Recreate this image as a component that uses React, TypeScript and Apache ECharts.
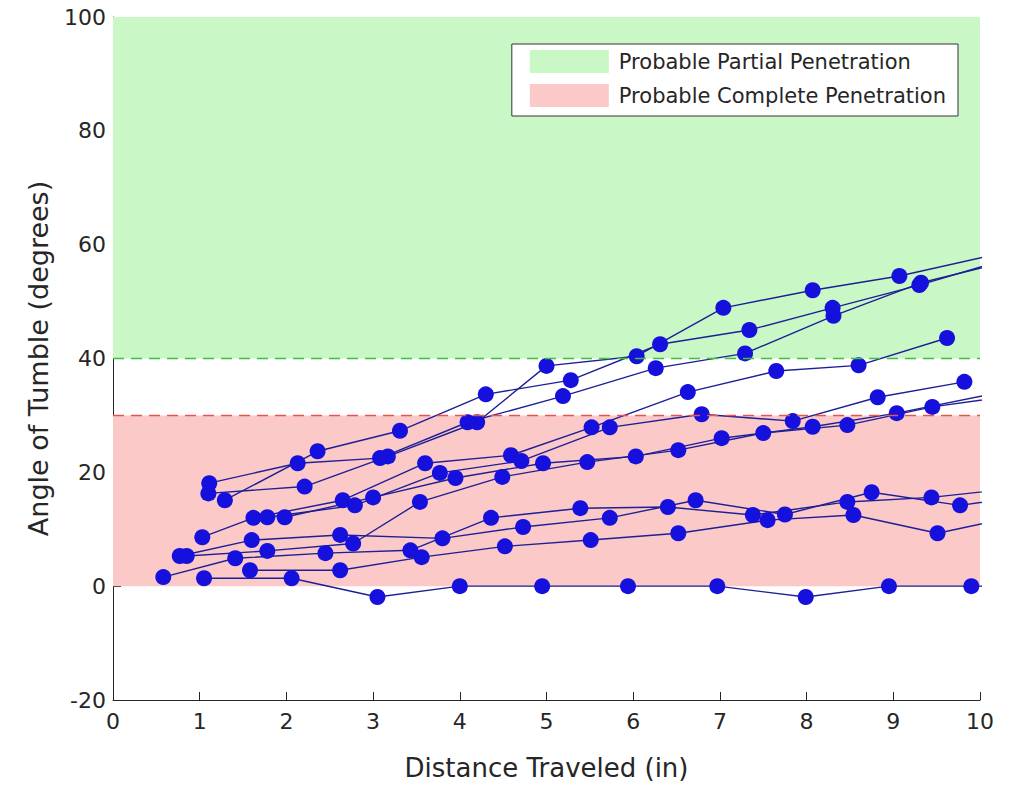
import React, { useEffect, useRef } from "react";
import * as echarts from "echarts";

const xTicks = [0, 1, 2, 3, 4, 5, 6, 7, 8, 9, 10];
const yTicks = [-20, 0, 20, 40, 60, 80, 100];

const trialZ = [[1.05, 1.4], [2.06, 1.4], [3.05, -1.9], [4.0, 0], [4.95, 0], [5.94, 0], [6.97, 0], [7.99, -1.9], [8.95, 0], [9.9, 0], [10.9, 0]];
const trialA = [[1.1, 16.3], [2.21, 17.5], [3.17, 22.8], [4.2, 28.8], [5.0, 38.7], [6.04, 40.4], [7.04, 48.9], [8.07, 52.0], [9.07, 54.5], [10.1, 58.0]];
const trialB = [[1.29, 15.1], [2.36, 23.7], [3.31, 27.3], [4.3, 33.7], [5.28, 36.2], [6.31, 42.5], [7.34, 45.0], [8.3, 48.9], [9.3, 52.9], [10.3, 57.4]];
const trialC = [[1.11, 18.1], [2.13, 21.6], [3.08, 22.5], [4.09, 28.8], [5.19, 33.4], [6.26, 38.3], [7.29, 40.9], [8.31, 47.5], [9.32, 53.3], [10.3, 57.0]];
const trialD = [[1.03, 8.6], [1.62, 12.0], [2.65, 15.1], [3.6, 21.6], [4.59, 23.0], [5.52, 27.9], [6.63, 34.1], [7.65, 37.8], [8.6, 38.8], [9.62, 43.6]];
const trialE = [[1.78, 12.1], [2.79, 14.2], [3.77, 19.9], [4.71, 22.0], [5.73, 27.9], [6.79, 30.2], [7.84, 29.0], [8.82, 33.2], [9.82, 35.9]];
const trialF = [[1.98, 12.1], [3.0, 15.6], [3.95, 19.0], [4.96, 21.6], [6.03, 22.8], [7.02, 26.0], [8.07, 28.0], [9.04, 30.4], [10.05, 33.5]];
const trialG = [[0.85, 5.3], [1.78, 6.2], [2.77, 7.5], [3.54, 14.8], [4.49, 19.2], [5.47, 21.8], [6.52, 23.9], [7.5, 26.9], [8.47, 28.3], [9.45, 31.5], [10.4, 33.5]];
const trialH = [[1.58, 2.8], [2.62, 2.8], [3.56, 5.1], [4.52, 7.0], [5.51, 8.1], [6.52, 9.3], [7.55, 11.6], [8.54, 12.5], [9.51, 9.3], [10.5, 12.5]];
const trialI = [[0.58, 1.6], [1.41, 4.9], [2.45, 5.8], [3.43, 6.3], [4.36, 12.0], [5.39, 13.7], [6.4, 13.9], [7.38, 12.5], [8.47, 14.8], [9.44, 15.6], [10.4, 17.2]];
const trialJ = [[0.77, 5.3], [1.6, 8.1], [2.62, 9.0], [3.8, 8.4], [4.73, 10.4], [5.73, 12.0], [6.72, 15.1], [7.75, 12.6], [8.75, 16.5], [9.77, 14.2], [10.5, 15.8]];

const trials = [trialZ, trialA, trialB, trialC, trialD, trialE, trialF, trialG, trialH, trialI, trialJ];

const partialRange = [40, 100];
const completeRange = [0, 30];
const legendNames = ["Probable Partial Penetration", "Probable Complete Penetration"];

const GREEN = "#c9f8c6";
const PINK = "#fac9c8";
const TEXT = "#262626";

export default function App() {
  const ref = useRef<HTMLDivElement>(null);
  useEffect(() => {
    if (!ref.current) return;
    const chart = echarts.init(ref.current, undefined, { renderer: "svg" });
    const font = "'DejaVu Sans', sans-serif";
    const series: any[] = [
      {
        name: legendNames[0],
        type: "line",
        data: [],
        z: 1,
        itemStyle: { color: GREEN },
        markArea: {
          silent: true,
          itemStyle: { color: GREEN },
          data: [[{ yAxis: partialRange[0] }, { yAxis: partialRange[1] }]],
        },
        markLine: {
          silent: true,
          symbol: "none",
          label: { show: false },
          lineStyle: { color: "#3fbf3f", type: [11, 7], width: 1.3 },
          data: [{ yAxis: partialRange[0] }],
        },
      },
      {
        name: legendNames[1],
        type: "line",
        data: [],
        z: 1,
        itemStyle: { color: PINK },
        markArea: {
          silent: true,
          itemStyle: { color: PINK },
          data: [[{ yAxis: completeRange[0] }, { yAxis: completeRange[1] }]],
        },
        markLine: {
          silent: true,
          symbol: "none",
          label: { show: false },
          lineStyle: { color: "#e6564c", type: [11, 7], width: 1.4 },
          data: [{ yAxis: completeRange[1] }],
        },
      },
    ];
    trials.forEach((t, i) => {
      series.push({
        name: "trial" + i,
        type: "line",
        data: t,
        z: 3,
        clip: true,
        symbol: "circle",
        symbolSize: 16,
        showAllSymbol: true,
        lineStyle: { color: "#1e1e96", width: 1.4 },
        itemStyle: { color: "#1510dc", borderWidth: 0 },
      });
    });
    chart.setOption({
      animation: false,
      backgroundColor: "#ffffff",
      textStyle: { fontFamily: font },
      grid: { left: 113, right: 29, top: 17, bottom: 89 },
      legend: {
        data: legendNames.map((n, i) => ({ name: n, icon: "rect", itemStyle: { color: i === 0 ? GREEN : PINK } })),
        orient: "vertical",
        right: 51,
        top: 44,
        itemWidth: 79,
        itemHeight: 23,
        itemGap: 11,
        padding: [6, 12, 9, 18],
        backgroundColor: "#ffffff",
        borderColor: "#333333",
        borderWidth: 1,
        textStyle: { color: TEXT, fontSize: 21, fontFamily: font, padding: [0, 0, 0, 5] },
        selectedMode: false,
      },
      xAxis: {
        type: "value",
        min: xTicks[0],
        max: xTicks[xTicks.length - 1],
        interval: 1,
        name: "Distance Traveled (in)",
        nameLocation: "middle",
        nameGap: 55,
        nameTextStyle: { color: TEXT, fontSize: 26, fontFamily: font },
        axisLine: { show: true, onZero: false, lineStyle: { color: TEXT, width: 1 } },
        axisTick: { show: true, inside: true, length: 8, lineStyle: { color: TEXT } },
        axisLabel: { color: TEXT, fontSize: 22, margin: 10, fontFamily: font },
        splitLine: { show: false },
      },
      yAxis: {
        type: "value",
        min: yTicks[0],
        max: yTicks[yTicks.length - 1],
        interval: 20,
        name: "Angle of Tumble (degrees)",
        nameLocation: "middle",
        nameGap: 61,
        nameTextStyle: { color: TEXT, fontSize: 27, fontFamily: font },
        axisLine: { show: true, onZero: false, lineStyle: { color: TEXT, width: 1 } },
        axisTick: { show: true, inside: true, length: 8, lineStyle: { color: TEXT } },
        axisLabel: { color: TEXT, fontSize: 22, margin: 7, fontFamily: font },
        splitLine: { show: false },
      },
      series,
    });
    return () => chart.dispose();
  }, []);
  return <div ref={ref} style={{ width: 1009, height: 789, margin: -8 }} />;
}
